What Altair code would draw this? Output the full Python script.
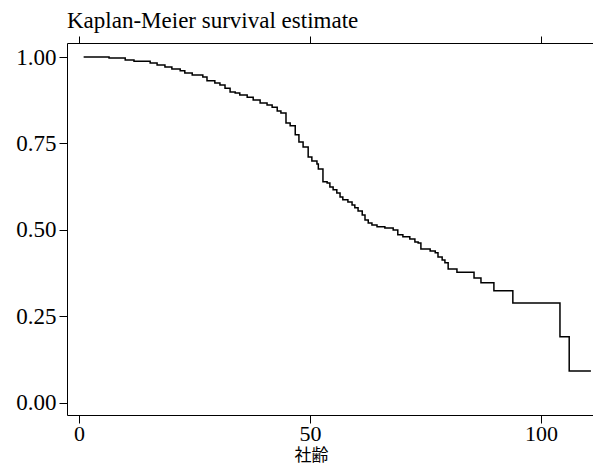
import altair as alt
import pandas as pd

times = [1.0, 6.5, 10.0, 11.9, 15.4, 16.9, 18.6, 20.1, 21.9, 22.9, 24.5, 26.8, 27.7,
         29.4, 30.5, 31.6, 32.7, 33.8, 34.8, 36.4, 37.7, 39.2, 40.7, 41.8, 42.9,
         43.7, 44.8, 45.7, 46.8, 47.6, 48.5, 49.6, 50.4, 51.5, 51.8, 52.8, 53.7,
         54.3, 55.0, 55.8, 56.5, 57.1, 58.2, 59.1, 59.7, 60.4, 61.3, 61.9, 62.6,
         63.4, 64.5, 66.2, 68.0, 69.0, 70.1, 71.6, 72.7, 73.4, 74.0, 76.0, 77.1,
         77.7, 78.6, 79.2, 79.9, 81.8, 85.5, 87.0, 89.8, 93.9, 104.1, 106.1, 110.8]
surv = [1.000, 0.997, 0.991, 0.988, 0.983, 0.977, 0.971, 0.965, 0.960, 0.954, 0.948,
        0.942, 0.931, 0.925, 0.919, 0.910, 0.899, 0.896, 0.890, 0.884, 0.876, 0.867,
        0.861, 0.855, 0.844, 0.838, 0.809, 0.801, 0.775, 0.754, 0.740, 0.711, 0.699,
        0.691, 0.676, 0.639, 0.636, 0.624, 0.616, 0.607, 0.595, 0.587, 0.581, 0.572,
        0.564, 0.555, 0.543, 0.529, 0.520, 0.514, 0.509, 0.506, 0.500, 0.486, 0.480,
        0.474, 0.465, 0.462, 0.445, 0.439, 0.434, 0.422, 0.413, 0.405, 0.387, 0.378,
        0.361, 0.347, 0.324, 0.289, 0.191, 0.092, 0.092]

x_ticks = [0, 50, 100]
y_ticks = [0.0, 0.25, 0.5, 0.75, 1.0]

df = pd.DataFrame({"t": times, "s": surv})

serif = "Liberation Serif"
xscale = alt.Scale(domain=[-2.6, 111.25], nice=False, zero=False)
yscale = alt.Scale(domain=[-0.035, 1.0405], nice=False, zero=False)

yenc = alt.Y("s:Q", scale=yscale,
             axis=alt.Axis(values=y_ticks, format=".2f", title=None, grid=False,
                           tickSize=8, labelPadding=3, labelFont=serif,
                           labelFontSize=23, labelColor="black", domainColor="black",
                           tickColor="black"))

line = alt.Chart(df).mark_line(interpolate="step-after", color="black", strokeWidth=1.5).encode(
    x=alt.X("t:Q", scale=xscale,
            axis=alt.Axis(values=x_ticks, title="社齢", grid=False, tickSize=8,
                          labelPadding=0, labelFont=serif, labelFontSize=22,
                          labelColor="black", domainColor="black", tickColor="black",
                          titleFont="Noto Sans CJK JP", titleFontSize=17,
                          titleFontWeight="normal", titleColor="black",
                          titleX=244, titleY=32, titleBaseline="top", titleAlign="center")),
    y=yenc,
)

top = alt.Chart(df).mark_line(opacity=0).encode(
    x=alt.X("t:Q", scale=xscale,
            axis=alt.Axis(orient="top", values=x_ticks, title=None, labels=False,
                          grid=False, tickSize=7, domainColor="black", tickColor="black")),
    y=yenc,
)

chart = alt.layer(line, top).resolve_scale(x="shared").resolve_axis(x="independent").properties(
    width=526,
    height=372,
    autosize=alt.AutoSizeParams(type="none"),
    padding={"left": 59, "top": 35, "right": 0, "bottom": 49},
    title=alt.TitleParams("Kaplan-Meier survival estimate", anchor="start", frame="group",
                          font=serif, fontSize=23, fontWeight="normal", color="black",
                          offset=3),
).configure_view(stroke=None)

chart.save("out.html", embed_options={"renderer": "svg", "actions": False})
